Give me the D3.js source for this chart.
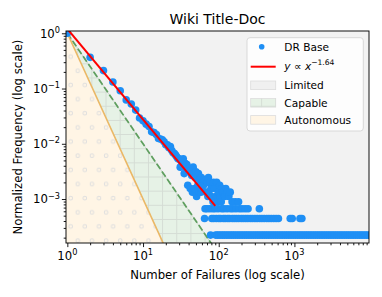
<!DOCTYPE html>
<html>
<head>
<meta charset="utf-8">
<script src="https://cdn.jsdelivr.net/npm/d3@7"></script>
<style>
  body { margin: 0; background: #fff; }
  svg { display: block; font-family: "DejaVu Sans", sans-serif; }
</style>
</head>
<body>
<svg id="chart" width="382" height="297"></svg>
<script>
// failures 1..64, how often each count was seen
var failures = [1,2,3,4,5,6,7,8,9,10,11,12,13,14,15,16,17,18,19,20,21,22,23,24,25,26,27,28,29,30,31,32,
  33,34,35,36,37,38,39,40,41,42,43,44,45,46,47,48,49,50,51,52,53,54,55,56,57,58,59,60,61,62,63,64];
var counts = [4500,1650,950,590,410,280,236,183,132,117,102,92,74,72,66,56,55,53,49,43,43,38,40,34,31,30,28,26,24,24,17,22,
  21,24,13,20,17,19,8,16,14,7,15,12,6,17,13,7,11,14,5,12,8,13,6,10,9,6,11,7,10,9,8,10];

// scattered tail points (count >= 4)
var tailFailures = [67,68,71,72,73,74,77,79,80,84,85,88,92,94,97,99,103,105,108,110,114,120,124,128,136,142,150,165,183];
var tailCounts = [10,6,9,5,11,6,9,7,5,4,9,7,5,9,4,6,8,5,4,7,6,5,7,6,5,6,4,4,4];

// failure values seen exactly three, two and one times
var seenThrice = [66,70,76,83,89,98,109,117,129,143,154,169,187,203,223,244,344];
var seenTwice = [65,81,86,93,100,106,115,122,131,139,151,161,172,184,199,212,227,243,262,280,301,322,347,372,399,430,
  461,495,532,572,615,880,935,1185,1255];
var seenOnce = [78,91,96,101,107,113,119,126,133,141,149,157,166,176,186,197,208,220,232,245,259,274,290,306,324,341,
  362,382,404,427,451,477,504,533,563,595,629,665,703,743,785,830,877,927,980,1036,1095,1157,1223,1293,1366,1444,
  1526,1613,1705,1802,1905,2013,2128,2249,2377,2512,2655,2806,2966,3135,3313,3502,3701,3912,4135,4370,4619,4882,
  5160,5454,5764,6092,6439,6806,7193,7603,8036,8493,8977,9488];

var maxCount = 4500;
var fitCoef = 1.2, fitExp = -1.64, fitEnd = 90;
var capableExp = -2, autonomousExp = -3;

var xTicks = [1, 10, 100, 1000];
var yTicks = [1e-3, 1e-2, 1e-1, 1];
var xTickExp = ["0", "1", "2", "3"];
var yTickExp = ["\u22123", "\u22122", "\u22121", "0"];

var svg = d3.select("#chart");
var pl = 66, pr = 369, pt = 31, pb = 243;

var x = d3.scaleLog().domain([0.96, 9670]).range([pl, pr]);
var y = d3.scaleLog().domain([1.6e-4, 1.1]).range([pb, pt]);
var xMin = x.domain()[0], xMax = x.domain()[1], yMin = y.domain()[0], yMax = y.domain()[1];

var defs = svg.append("defs");
defs.append("clipPath").attr("id", "plotclip")
  .append("rect").attr("x", pl).attr("y", pt).attr("width", pr - pl).attr("height", pb - pt);

var grid = defs.append("pattern").attr("id", "gridHatch").attr("patternUnits", "userSpaceOnUse")
  .attr("x", 70.63).attr("y", 56.73).attr("width", 14.15).attr("height", 14.15);
grid.append("line").attr("x1", 7.07).attr("x2", 7.07).attr("y1", 0).attr("y2", 14.15)
  .attr("stroke", "#d4dcd4").attr("stroke-width", 1);
grid.append("line").attr("x1", 0).attr("x2", 14.15).attr("y1", 7.07).attr("y2", 7.07)
  .attr("stroke", "#d4dcd4").attr("stroke-width", 1);

var dots = defs.append("pattern").attr("id", "dotHatch").attr("patternUnits", "userSpaceOnUse")
  .attr("x", 67.2).attr("y", 49.7).attr("width", 14.15).attr("height", 28.3);
[[3.5, 7], [10.57, 21.15]].forEach(function(c) {
  dots.append("circle").attr("cx", c[0]).attr("cy", c[1]).attr("r", 1.8)
    .attr("fill", "none").attr("stroke", "#dedede").attr("stroke-width", 1);
});

var plot = svg.append("g").attr("clip-path", "url(#plotclip)");

// Limited (whole background)
plot.append("rect").attr("x", pl).attr("y", pt).attr("width", pr - pl).attr("height", pb - pt)
  .attr("fill", "#f2f2f2");

var capEndX = Math.pow(yMin, 1 / capableExp);
var autEndX = Math.pow(yMin, 1 / autonomousExp);
var poly = d3.line().x(function(d) { return x(d[0]); }).y(function(d) { return y(d[1]); });

var capable = [[1, 1], [capEndX, yMin], [autEndX, yMin], [1, 1]];
var autonomous = [[xMin, yMax], [1, yMax], [1, 1], [autEndX, yMin], [xMin, yMin]];

plot.append("path").attr("d", poly(capable)).attr("fill", "#e6f2e6").attr("stroke", "#cdd3cd").attr("stroke-width", 1);
plot.append("path").attr("d", poly(capable)).attr("fill", "url(#gridHatch)");
plot.append("path").attr("d", poly(autonomous)).attr("fill", "#fff5e5");
plot.append("path").attr("d", poly(autonomous)).attr("fill", "url(#dotHatch)");

// boundary lines
plot.append("path").attr("d", poly([[1, 1], [100, Math.pow(100, capableExp)]]))
  .attr("stroke", "#5f9f5f").attr("stroke-width", 1.75).attr("stroke-dasharray", "6.5,2.8").attr("fill", "none");
plot.append("path").attr("d", poly([[1, 1], [100, Math.pow(100, autonomousExp)]]))
  .attr("stroke", "#ebb865").attr("stroke-width", 1.6).attr("fill", "none");

// scatter
var points = [];
failures.forEach(function(f, i) { points.push([f, counts[i]]); });
tailFailures.forEach(function(f, i) { points.push([f, tailCounts[i]]); });
seenThrice.forEach(function(f) { points.push([f, 3]); });
seenTwice.forEach(function(f) { points.push([f, 2]); });
seenOnce.forEach(function(f) { points.push([f, 1]); });

plot.selectAll("circle.pt").data(points).enter().append("circle")
  .attr("class", "pt")
  .attr("cx", function(d) { return x(d[0]); })
  .attr("cy", function(d) { return y(d[1] / maxCount); })
  .attr("r", 3.8)
  .attr("fill", "#1e8ff5");

// power-law fit
var fitLine = [[1, fitCoef], [fitEnd, fitCoef * Math.pow(fitEnd, fitExp)]];
plot.append("path").attr("d", poly(fitLine)).attr("stroke", "#ff0000").attr("stroke-width", 2).attr("fill", "none");

// axes
function minorTicks(lo, hi) {
  var out = [];
  for (var e = lo; e <= hi; e++) for (var m = 2; m <= 9; m++) out.push(m * Math.pow(10, e));
  return out;
}
var xMinor = minorTicks(0, 3).filter(function(v) { return v < xMax; });
var yMinor = minorTicks(-4, -1).filter(function(v) { return v > yMin; });

var xAxis = svg.append("g").attr("transform", "translate(0," + pb + ")");
xAxis.call(d3.axisBottom(x).tickValues(xTicks).tickSize(4.1).tickFormat(""));
xAxis.append("g").call(d3.axisBottom(x).tickValues(xMinor).tickSize(2.3).tickFormat(""));
var yAxis = svg.append("g").attr("transform", "translate(" + pl + ",0)");
yAxis.call(d3.axisLeft(y).tickValues(yTicks).tickSize(4.1).tickFormat(""));
yAxis.append("g").call(d3.axisLeft(y).tickValues(yMinor).tickSize(2.3).tickFormat(""));
svg.selectAll(".domain").remove();
svg.selectAll(".tick line").attr("stroke", "#000").attr("stroke-width", 0.9);

svg.append("rect").attr("x", pl).attr("y", pt).attr("width", pr - pl).attr("height", pb - pt)
  .attr("fill", "none").attr("stroke", "#000").attr("stroke-width", 0.93);

xTicks.forEach(function(v, i) {
  var t = svg.append("text").attr("x", x(v)).attr("y", 260).attr("text-anchor", "middle")
    .attr("font-size", 11.7).attr("fill", "#000");
  t.append("tspan").text("10");
  t.append("tspan").attr("dy", -4.6).attr("font-size", 8.2).text(xTickExp[i]);
});
yTicks.forEach(function(v, i) {
  var t = svg.append("text").attr("x", 60).attr("y", y(v) + 4.3).attr("text-anchor", "end")
    .attr("font-size", 11.7).attr("fill", "#000");
  t.append("tspan").text("10");
  t.append("tspan").attr("dy", -4.6).attr("font-size", 8.2).text(yTickExp[i]);
});

svg.append("text").attr("x", (pl + pr) / 2).attr("y", 24).attr("text-anchor", "middle")
  .attr("font-size", 14).text("Wiki Title-Doc");
svg.append("text").attr("x", (pl + pr) / 2).attr("y", 278.5).attr("text-anchor", "middle")
  .attr("font-size", 11.7).text("Number of Failures (log scale)");
svg.append("text").attr("transform", "translate(22," + (pt + pb) / 2 + ") rotate(-90)")
  .attr("text-anchor", "middle").attr("font-size", 11.7).text("Normalized Frequency (log scale)");

// legend
var lg = svg.append("g");
lg.append("rect").attr("x", 247).attr("y", 37.7).attr("width", 116.3).attr("height", 93.3).attr("rx", 3)
  .attr("fill", "#fff").attr("fill-opacity", 0.85).attr("stroke", "#d5d5d5").attr("stroke-width", 0.9);
var px0 = 250.7, pw = 25, tx = 284.3, fs = 10.6;
lg.append("circle").attr("cx", px0 + 11).attr("cy", 46.8).attr("r", 2.8).attr("fill", "#1e8ff5");
lg.append("text").attr("x", tx).attr("y", 51).attr("font-size", fs).text("DR Base");
lg.append("line").attr("x1", px0).attr("x2", px0 + pw).attr("y1", 66.7).attr("y2", 66.7)
  .attr("stroke", "#ff0000").attr("stroke-width", 2);
var mt = lg.append("text").attr("x", tx).attr("y", 69.5).attr("font-size", fs);
mt.append("tspan").attr("font-style", "italic").text("y");
mt.append("tspan").text(" \u221d ");
mt.append("tspan").attr("font-style", "italic").text("x");
mt.append("tspan").attr("dy", -5).attr("font-size", 7.6).text("\u22121.64");

var patches = [
  {label: "Limited", fill: "#f0f0f0", hatch: null, y: 81},
  {label: "Capable", fill: "#e6f2e6", hatch: "url(#gridHatch)", y: 98.5},
  {label: "Autonomous", fill: "#fff5e5", hatch: null, y: 115.6}
];
patches.forEach(function(p) {
  lg.append("rect").attr("x", px0).attr("y", p.y).attr("width", pw).attr("height", 8.6)
    .attr("fill", p.fill).attr("stroke", "#dcdcdc").attr("stroke-width", 0.8);
  if (p.hatch) lg.append("rect").attr("x", px0).attr("y", p.y).attr("width", pw).attr("height", 8.6).attr("fill", p.hatch);
  lg.append("text").attr("x", tx).attr("y", p.y + 8.4).attr("font-size", fs).text(p.label);
});
</script>
</body>
</html>
